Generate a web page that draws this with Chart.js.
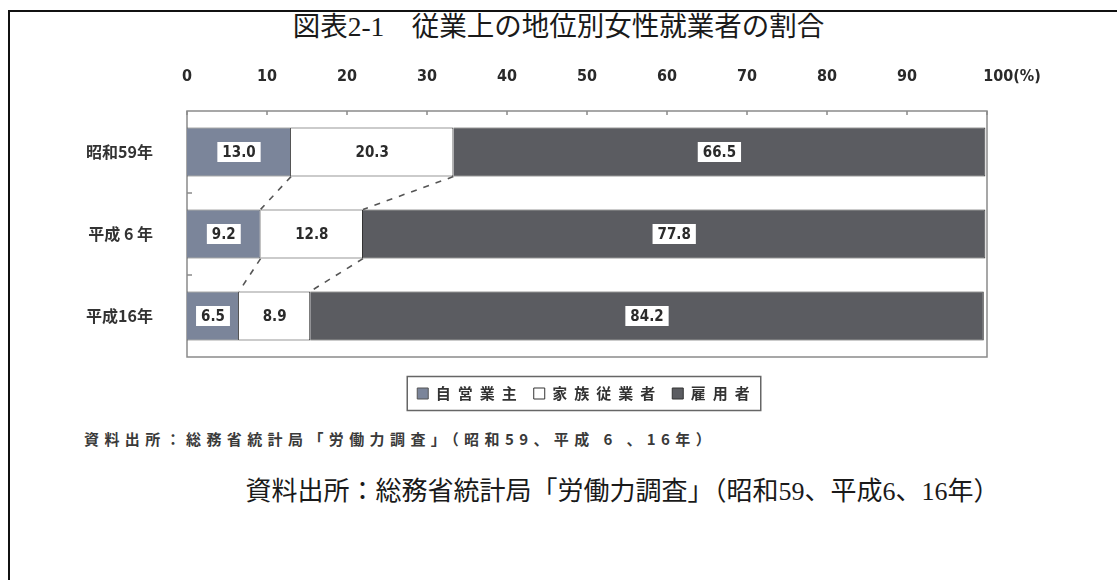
<!DOCTYPE html>
<html lang="ja">
<head>
<meta charset="utf-8">
<script src="https://cdn.jsdelivr.net/npm/chart.js@4.4.1/dist/chart.umd.min.js"></script>
<style>
  body { margin: 0; width: 1117px; height: 580px; overflow: hidden; background: #fff; position: relative; }
  #frame { position: absolute; left: 8px; top: 10px; width: 1200px; height: 700px;
           border-top: 2px solid #111; border-left: 2px solid #111; }
  #chart { position: absolute; left: 0; top: 0; }
  .txt { position: absolute; white-space: nowrap; color: #1a1a1a;
         font-family: "Liberation Serif", "Noto Sans CJK JP", serif; }
  #title { left: 0; width: 1117px; text-align: center; top: 10px; line-height: 34px; font-size: 27.5px; }
  #source { left: 84px; top: 429px; line-height: 20px; font-size: 15px; font-weight: bold; letter-spacing: 5.4px;
            color: #3a3a3a; font-family: "Noto Sans CJK JP", sans-serif; }
  #caption { left: 0; width: 1117px; text-align: center; padding-left: 128px; box-sizing: border-box;
             top: 475px; line-height: 34px; font-size: 26px; }
</style>
</head>
<body>
<div id="frame"></div>
<div class="txt" id="title">図表2-1　従業上の地位別女性就業者の割合</div>
<canvas id="chart" width="1117" height="425"></canvas>
<div class="txt" id="source">資料出所：総務省統計局「労働力調査」（昭和59、平成 6 、16年）</div>
<div class="txt" id="caption">資料出所：総務省統計局「労働力調査」（昭和59、平成6、16年）</div>

<script>
// ---------------------------- données -----------------------------------------
const categories = ['昭和59年', '平成 6 年', '平成16年'];
const seriesNames = ['自営業主', '家族従業者', '雇用者'];
const selfEmployed = [13.0, 9.2, 6.5];
const familyWorkers = [20.3, 12.8, 8.9];
const employees = [66.5, 77.8, 84.2];
const xTickLabels = { 100: '          100(%)' };

const numFont = '"DejaVu Sans", sans-serif';
const numWeight = 'bold condensed';
const jpFont = '"Noto Sans CJK JP", sans-serif';

// ---------------------------- plugins ------------------------------------------

// cadre gris autour de la zone du graphique + petites graduations
const framePlugin = {
  id: 'frame',
  beforeDatasetsDraw(chart) {
    const { ctx, chartArea: a, scales: { x, y } } = chart;
    ctx.save();
    ctx.strokeStyle = '#8a8a8a';
    ctx.lineWidth = 1.5;
    ctx.strokeRect(a.left, a.top, a.right - a.left, a.bottom - a.top);
    ctx.beginPath();
    x.ticks.forEach(t => {
      const px = x.getPixelForValue(t.value);
      ctx.moveTo(px, a.top);
      ctx.lineTo(px, a.top + 4);
    });
    for (let i = 0; i < categories.length - 1; i++) {
      const py = (y.getPixelForValue(i) + y.getPixelForValue(i + 1)) / 2;
      ctx.moveTo(a.left, py);
      ctx.lineTo(a.left + 5, py);
    }
    ctx.stroke();
    ctx.restore();
  }
};

// lignes pointillées entre les barres
const connectorPlugin = {
  id: 'connectors',
  afterDatasetsDraw(chart) {
    const ctx = chart.ctx;
    ctx.save();
    ctx.strokeStyle = '#555';
    ctx.lineWidth = 1.6;
    ctx.setLineDash([6, 7]);
    [0, 1].forEach(d => {
      const bars = chart.getDatasetMeta(d).data;
      for (let i = 0; i < bars.length - 1; i++) {
        const a = bars[i], b = bars[i + 1];
        ctx.beginPath();
        ctx.moveTo(a.x, a.y + a.height / 2);
        ctx.lineTo(b.x, b.y - b.height / 2);
        ctx.stroke();
      }
    });
    ctx.restore();
  }
};

// valeurs dans des petites boîtes blanches
const valueLabels = {
  id: 'valueLabels',
  afterDatasetsDraw(chart) {
    const ctx = chart.ctx;
    ctx.save();
    ctx.font = numWeight + ' 15px ' + numFont;
    ctx.textAlign = 'center';
    ctx.textBaseline = 'middle';
    chart.data.datasets.forEach((ds, d) => {
      chart.getDatasetMeta(d).data.forEach((bar, i) => {
        const txt = ds.data[i].toFixed(1);
        const cx = (bar.x + bar.base) / 2;
        const w = ctx.measureText(txt).width + 10;
        ctx.fillStyle = '#fff';
        ctx.fillRect(cx - w / 2, bar.y - 10, w, 20);
        ctx.fillStyle = '#2b2b2b';
        ctx.fillText(txt, cx, bar.y + 1);
      });
    });
    ctx.restore();
  }
};

// espacement des lettres de la légende + cadre autour
const legendStyle = {
  id: 'legendStyle',
  afterInit(chart) {
    const lg = chart.legend;
    ['fit', 'draw'].forEach(name => {
      const orig = lg[name];
      lg[name] = function (...args) {
        const prev = chart.ctx.letterSpacing;
        chart.ctx.letterSpacing = '7px';
        const r = orig.apply(this, args);
        chart.ctx.letterSpacing = prev;
        return r;
      };
    });
  },
  afterDraw(chart) {
    const hb = chart.legend.legendHitBoxes;
    if (!hb || !hb.length) return;
    const ctx = chart.ctx;
    const left = Math.min(...hb.map(h => h.left)) - 10;
    const right = Math.max(...hb.map(h => h.left + h.width)) + 4;
    const cy = hb[0].top + hb[0].height / 2;
    ctx.save();
    ctx.strokeStyle = '#666';
    ctx.lineWidth = 1.5;
    ctx.strokeRect(left, cy - 17, right - left, 34);
    ctx.restore();
  }
};

// ---------------------------- graphique ----------------------------------------
const ctx = document.getElementById('chart');
new Chart(ctx, {
  type: 'bar',
  data: {
    labels: categories,
    datasets: [
      { label: seriesNames[0], data: selfEmployed, backgroundColor: '#7b859a', borderColor: '#555', borderWidth: 1 },
      { label: seriesNames[1], data: familyWorkers, backgroundColor: '#ffffff', borderColor: '#333', borderWidth: 1 },
      { label: seriesNames[2], data: employees, backgroundColor: '#5b5c61', borderColor: '#333', borderWidth: 1 }
    ]
  },
  options: {
    indexAxis: 'y',
    responsive: false,
    animation: false,
    barPercentage: 0.6,
    categoryPercentage: 1,
    layout: { padding: { top: 40, right: 130, bottom: 14, left: 0 } },
    scales: {
      x: {
        position: 'top',
        stacked: true,
        min: 0,
        max: 100,
        ticks: {
          stepSize: 10,
          padding: 25,
          maxRotation: 0,
          minRotation: 0,
          autoSkip: false,
          color: '#2a2a2a',
          font: { family: numFont, size: 16, weight: numWeight },
          callback: v => xTickLabels[v] || String(v)
        },
        grid: { display: false, drawTicks: false },
        border: { display: false },
        afterFit: s => { s.height = 71; }
      },
      x2: {
        position: 'bottom',
        display: true,
        ticks: { display: false },
        grid: { display: false, drawTicks: false },
        border: { display: false },
        afterFit: s => { s.height = 19; }
      },
      y: {
        stacked: true,
        ticks: {
          padding: 34,
          color: '#333',
          font: { family: jpFont, size: 16, weight: 'bold' }
        },
        grid: { display: false, drawTicks: false },
        border: { display: false },
        afterFit: s => { s.width = 187; }
      }
    },
    plugins: {
      legend: {
        position: 'bottom',
        fullSize: false,
        labels: {
          boxWidth: 11,
          boxHeight: 11,
          padding: 10,
          color: '#333',
          font: { family: jpFont, size: 15, weight: 'bold' }
        }
      },
      tooltip: { enabled: false }
    }
  },
  plugins: [framePlugin, connectorPlugin, valueLabels, legendStyle]
});
</script>
</body>
</html>
